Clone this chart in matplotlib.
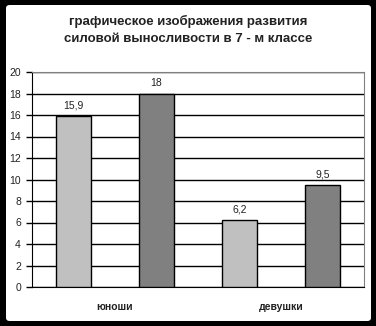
import matplotlib
matplotlib.use("Agg")
import matplotlib.pyplot as plt
from matplotlib.patches import FancyBboxPatch
import numpy as np

plt.rcParams['font.family'] = ['Liberation Sans', 'DejaVu Sans']

CATEGORIES = ["юноши", "девушки"]
SERIES_1 = [15.9, 6.2]
SERIES_2 = [18.0, 9.5]
LABELS_1 = ["15,9", "6,2"]
LABELS_2 = ["18", "9,5"]
YTICKS = [0, 2, 4, 6, 8, 10, 12, 14, 16, 18, 20]
TITLE = "графическое изображения развития\nсиловой выносливости в 7 - м классе"

W, H = 376, 326
fig = plt.figure(figsize=(W / 100, H / 100), dpi=100, facecolor="black")

# white rounded panel over the black background
panel = FancyBboxPatch((6 / W, 5 / H), 365 / W, 316 / H,
                       boxstyle="round,pad=0,rounding_size=0.01",
                       transform=fig.transFigure, facecolor="white",
                       edgecolor="none", zorder=-1)
fig.patches.append(panel)

ax = fig.add_axes([32 / W, 39 / H, 332 / W, 215 / H])
ax.set_zorder(1)
ax.set_facecolor("white")

x = np.arange(len(CATEGORIES))
w = 0.205
b1 = ax.bar(x - 0.25, SERIES_1, w, color="#C0C0C0", edgecolor="black", linewidth=1, zorder=3)
b2 = ax.bar(x + 0.25, SERIES_2, w, color="#808080", edgecolor="black", linewidth=1, zorder=3)

for rect, lab in zip(b1, LABELS_1):
    ax.text(rect.get_x() + rect.get_width() / 2, rect.get_height() + 0.5, lab,
            ha="center", va="bottom", fontsize=7.5, color="#222222")
for rect, lab in zip(b2, LABELS_2):
    ax.text(rect.get_x() + rect.get_width() / 2, rect.get_height() + 0.5, lab,
            ha="center", va="bottom", fontsize=7.5, color="#222222")

ax.set_xlim(-0.5, 1.5)
ax.set_ylim(0, 20)
ax.set_yticks(YTICKS)
ax.set_yticklabels([str(t) for t in YTICKS], fontsize=7.5, color="#222222")
ax.yaxis.grid(True, color="black", linewidth=1, zorder=0)
ax.set_axisbelow(True)

ax.set_xticks(x)
ax.set_xticklabels(CATEGORIES, fontsize=7.5, fontweight="bold", color="#222222")
ax.tick_params(axis="x", length=0, pad=11)
ax.tick_params(axis="y", length=4, width=1, color="black", pad=4)

ax.spines["left"].set_color("black")
ax.spines["bottom"].set_color("black")
ax.spines["top"].set_color("#808080")
ax.spines["right"].set_color("#808080")

fig.text(0.5, 1 - 30 / H, TITLE, ha="center", va="center", fontsize=9.5,
         fontweight="bold", color="#222222", linespacing=1.5)

fig.savefig("out.png", dpi=100, facecolor="black")
